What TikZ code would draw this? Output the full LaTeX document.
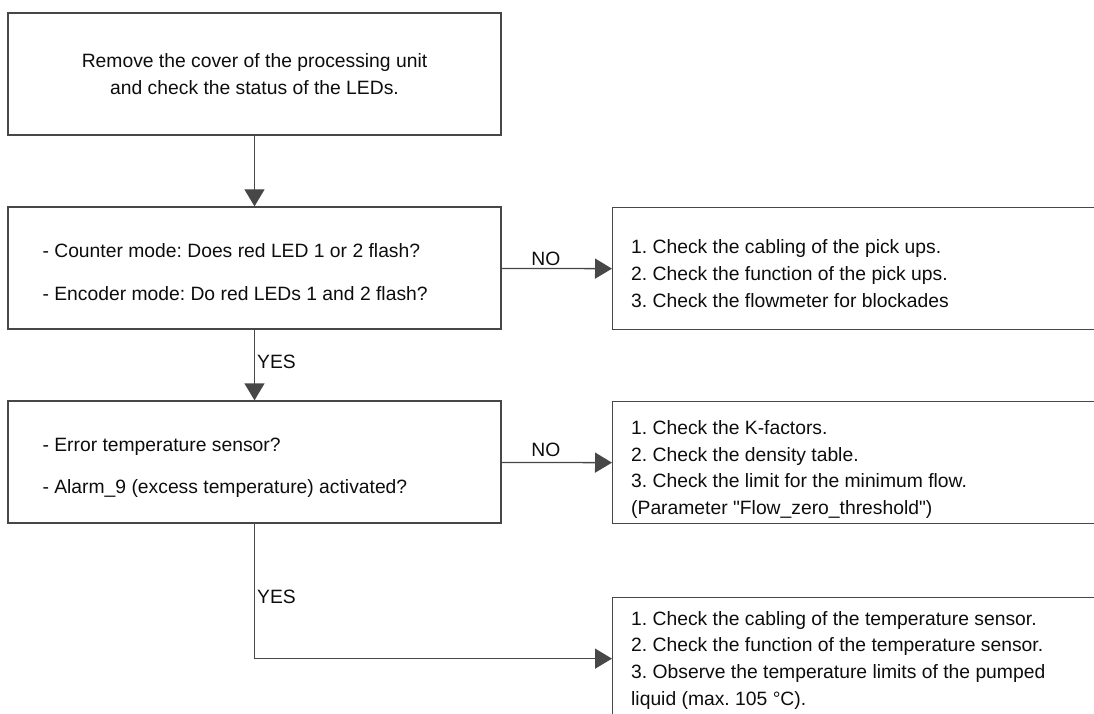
\documentclass[tikz,border=0pt]{standalone}
\usepackage{fontspec}
\setmainfont{Liberation Sans}[Ligatures=TeXOff]
\usetikzlibrary{arrows.meta}
\frenchspacing
\begin{document}
\begin{tikzpicture}[x=1pt,y=-1pt,
  font=\fontsize{19.3}{26.7}\selectfont\frenchspacing,
  box/.style={draw=black!72, line width=1.3pt, rectangle, inner sep=0pt, minimum height=122pt},
  lbox/.style={box, minimum width=493pt},
  rbox/.style={box, minimum width=488pt, anchor=north west},
  txt/.style={align=left, inner sep=0pt, text=black!95},
  arr/.style={draw=black!72, line width=1.3pt, -{Triangle[length=17pt,width=20pt]}},
  lbl/.style={inner sep=2pt, text=black!95}
]
\useasboundingbox (0,0) rectangle (1094,714);
\clip (0,0) rectangle (1094,714);

\node[lbox, align=center, text=black!95] (start) at (254.5,74)
  {Remove the cover of the processing unit\\ and check the status of the LEDs.};

\node[lbox] (q1) at (254.5,268) {};
\node[txt, anchor=west] (tq1) at ([xshift=35pt,yshift=-4pt]q1.west)
  {- Counter mode: Does red LED 1 or 2 flash?\\[16pt] - Encoder mode: Do red LEDs 1 and 2 flash?};

\node[lbox] (q2) at (254.5,462) {};
\node[txt, anchor=west] (tq2) at ([xshift=35pt,yshift=-6pt]q2.west)
  {- Error temperature sensor?\\[15pt] - Alarm\_9 (excess temperature) activated?};

\node[rbox] (a1) at (612,207) {};
\node[txt, anchor=west] (t1) at ([xshift=19pt,yshift=-5pt]a1.west)
  {1. Check the cabling of the pick ups.\\ 2. Check the function of the pick ups.\\ 3. Check the flowmeter for blockades};

\node[rbox] (a2) at (612,401) {};
\node[txt, anchor=west] (t2) at ([xshift=19pt,yshift=-7pt]a2.west)
  {1. Check the K-factors.\\ 2. Check the density table.\\ 3. Check the limit for the minimum flow.\\ (Parameter "Flow\_zero\_threshold")};

\node[rbox] (a3) at (612,597) {};
\node[txt, anchor=north west] (t3) at ([xshift=19pt,yshift=-14pt]a3.north west)
  {1. Check the cabling of the temperature sensor.\\ 2. Check the function of the temperature sensor.\\ 3. Observe the temperature limits of the pumped\\ liquid (max. 105 °C).};

\draw[arr] (start) -- (q1);
\draw[arr] (q1) -- node[lbl, above, pos=0.4] {NO} (a1.west);
\draw[arr] (q1) -- node[lbl, right, pos=0.45] {YES} (q2);
\draw[arr] (q2) -- node[lbl, above=3pt, pos=0.4] {NO} (a2.west);
\draw[arr] (q2.south) |- node[lbl, right, pos=0.27] {YES} (a3.west);
\end{tikzpicture}
\end{document}
